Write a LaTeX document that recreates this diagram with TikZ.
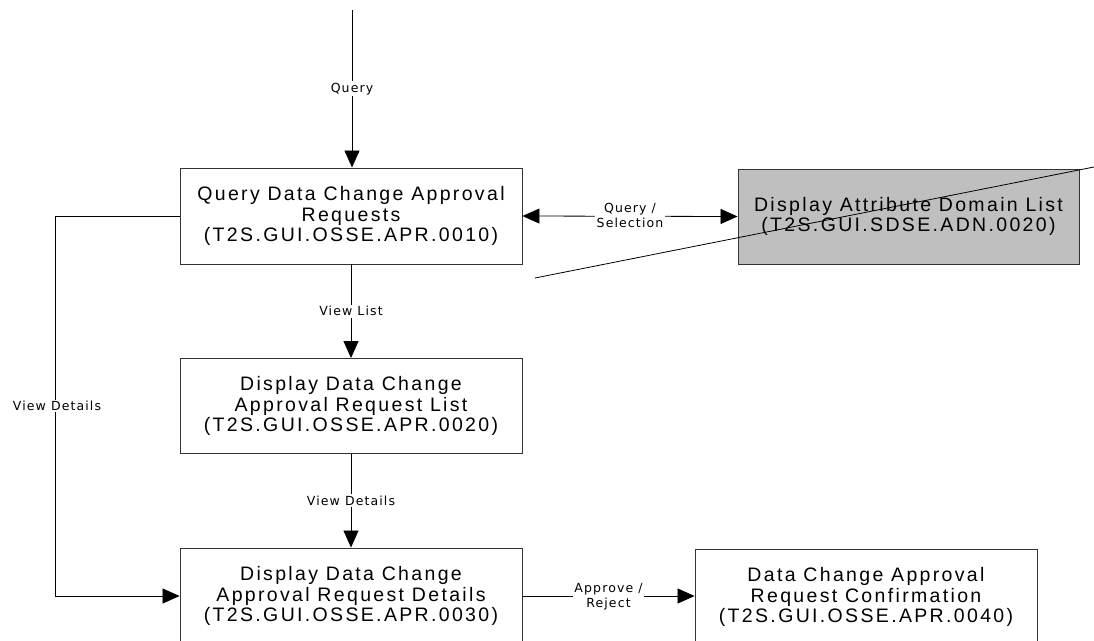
\documentclass[tikz,border=0pt]{standalone}
\usepackage{fontspec}
\setmainfont{Liberation Sans}
\newfontfamily\lblfont[LetterSpace=9]{DejaVu Sans}
\newfontfamily\boxfont[LetterSpace=12]{Liberation Sans}
\usetikzlibrary{arrows.meta}
\tikzset{
  screen/.style={draw=black!80, line width=0.9pt, fill=white, minimum width=342pt, minimum height=96pt,
    align=center, inner sep=0pt, font=\boxfont\fontsize{19.5}{20.5}\selectfont},
  greyscreen/.style={screen, fill=black!25},
  conn/.style={line width=0.8pt, draw=black},
  arr/.style={conn, -{Triangle[length=17pt,width=15pt]}},
  darr/.style={conn, {Triangle[length=17pt,width=15pt]}-{Triangle[length=17pt,width=15pt]}},
  lbl/.style={fill=white, inner sep=1.5pt, align=center, font=\lblfont\fontsize{12.5}{15}\selectfont}
}
\begin{document}
\begin{tikzpicture}[x=1pt,y=-1pt]
\useasboundingbox (0,0) rectangle (1094,640);
\clip (0,0) rectangle (1094,640);
\node[screen] (b1) at (351,216) {Query Data Change Approval\\Requests\\(T2S.GUI.OSSE.APR.0010)};
\node[greyscreen, minimum width=341pt, minimum height=95pt] (b2) at (908.5,216.5) {Display Attribute Domain List\\(T2S.GUI.SDSE.ADN.0020)};
\node[screen, minimum height=95pt] (b3) at (351,406) {Display Data Change\\Approval Request List\\(T2S.GUI.OSSE.APR.0020)};
\node[screen] (b4) at (351,596) {Display Data Change\\Approval Request Details\\(T2S.GUI.OSSE.APR.0030)};
\node[screen] (b5) at (866,597) {Data Change Approval\\Request Confirmation\\(T2S.GUI.OSSE.APR.0040)};
\coordinate (top) at (352,10);
\coordinate (l1) at (55,216);
\coordinate (l2) at (55,596);
\coordinate (x1) at (535,278);
\coordinate (x2) at (1094,167);
\draw[arr] (top) -- node[lbl] {Query} (b1.north -| top);
\draw[arr] (b1.south) -- node[lbl] {View List} (b3.north);
\draw[arr] (b3.south) -- node[lbl] {View Details} (b4.north);
\draw[darr] (b1.east) -- node[lbl, yshift=1pt] {Query /\\Selection} (b2.west);
\draw[arr] (b4.east) -- node[lbl, yshift=-1pt] {Approve /\\Reject} (b5.west |- b4.east);
\draw[conn] (b1.west) -- (l1) -- node[lbl, xshift=2pt] {View Details} (l2);
\draw[arr] (l2) -- (b4.west);
\draw[conn] (x1) -- (x2);
\end{tikzpicture}
\end{document}
